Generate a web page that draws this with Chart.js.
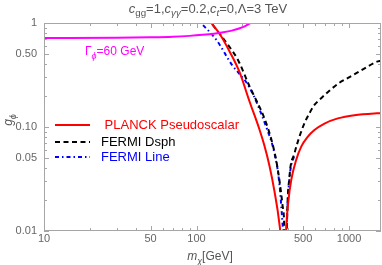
<!DOCTYPE html>
<html>
<head>
<meta charset="utf-8">
<script src="https://cdn.jsdelivr.net/npm/chart.js@4.4.1/dist/chart.umd.min.js"></script>
<style>
html, body { margin: 0; padding: 0; background: #fff; }
</style>
</head>
<body>
<canvas id="grafico" width="382" height="265"></canvas>
<script>
// Ejes
const xTicks = [10, 50, 100, 500, 1000];
const yTicks = [0.01, 0.05, 0.1, 0.5, 1];
const yTickLabels = ['0.01', '0.05', '0.10', '0.50', '1'];
const xMinor = [20, 30, 40, 60, 70, 80, 90, 200, 300, 400, 600, 700, 800, 900];
const yMinor = [0.02, 0.03, 0.04, 0.06, 0.07, 0.08, 0.09, 0.2, 0.3, 0.4, 0.6, 0.7, 0.8, 0.9];

// Ancho Gamma_phi = 60 GeV
const anchoM = [10, 30, 50, 70, 90, 110, 130, 150, 170, 190, 210, 235];
const anchoG = [0.718, 0.722, 0.728, 0.737, 0.752, 0.77, 0.79, 0.815, 0.845, 0.885, 0.94, 1.04];

// PLANCK Pseudoscalar
const planckM = [118, 125, 141, 165, 191, 222, 258, 278, 301, 324, 349, 356, 370, 387, 401, 418, 450, 486, 537, 593, 690, 844, 1083, 1517, 1620];
const planckG = [1.15, 1.0, 0.796, 0.53, 0.34, 0.178, 0.0957, 0.0671, 0.0422, 0.0243, 0.0119, 0.0085, 0.001, 0.0101, 0.0199, 0.031, 0.0482, 0.0647, 0.0807, 0.0936, 0.108, 0.121, 0.13, 0.1355, 0.136];

// FERMI Dsph
const dsphM = [118, 125, 164, 187, 222, 278, 314, 339, 366, 377, 384, 391, 407, 439, 473, 510, 550, 593, 639, 740, 861, 1000, 1161, 1525, 1620];
const dsphG = [1.12, 1.0, 0.592, 0.441, 0.248, 0.122, 0.07, 0.0412, 0.0178, 0.0095, 0.001, 0.01, 0.0333, 0.0558, 0.0807, 0.1086, 0.1356, 0.163, 0.182, 0.222, 0.265, 0.3, 0.34, 0.425, 0.435];

// FERMI Line
const lineaM = [98, 105, 135, 172, 191, 222, 286, 324, 349, 366, 372, 380, 390, 407, 440];
const lineaG = [1.15, 1.03, 0.687, 0.39, 0.325, 0.242, 0.1006, 0.0562, 0.029, 0.0119, 0.008, 0.001, 0.01, 0.032, 0.055];

const FUENTE = "'Liberation Sans', Arial, sans-serif";

function puntos(xs, ys) {
    return xs.map((x, i) => ({ x: x, y: ys[i] }));
}

// Dibuja texto con subindices: partes = [[texto, estilo]], estilo 'n', 'i', 's' (sub), 'si' (sub italica)
function textoPartes(ctx, partes, x, y, align, size, color) {
    const fuente = (p) => {
        const sub = p[1].indexOf('s') === 0;
        const it = p[1].indexOf('i') >= 0;
        return (it ? 'italic ' : '') + (sub ? size * 0.75 : size) + 'px ' + FUENTE;
    };
    let total = 0;
    partes.forEach((p) => { ctx.font = fuente(p); total += ctx.measureText(p[0]).width; });
    let cx = align === 'center' ? x - total / 2 : x;
    ctx.fillStyle = color;
    ctx.textAlign = 'left';
    ctx.textBaseline = 'middle';
    partes.forEach((p) => {
        ctx.font = fuente(p);
        const dy = p[1].indexOf('s') === 0 ? size * 0.35 : 0;
        ctx.fillText(p[0], cx, y + dy);
        cx += ctx.measureText(p[0]).width;
    });
}

const pluginMarco = {
    id: 'marco',
    afterDatasetsDraw(chart) {
        const ctx = chart.ctx;
        const a = chart.chartArea;
        const sx = chart.scales.x;
        const sy = chart.scales.y;
        ctx.save();
        ctx.strokeStyle = '#a6a6a6';
        ctx.lineWidth = 1;
        ctx.strokeRect(a.left + 0.5, a.top + 0.5, a.right - a.left - 1, a.bottom - a.top - 1);
        ctx.beginPath();
        const marcasX = (vals, len) => vals.forEach((v) => {
            const px = Math.round(sx.getPixelForValue(v)) + 0.5;
            ctx.moveTo(px, a.bottom); ctx.lineTo(px, a.bottom - len);
            ctx.moveTo(px, a.top); ctx.lineTo(px, a.top + len);
        });
        const marcasY = (vals, len) => vals.forEach((v) => {
            const py = Math.round(sy.getPixelForValue(v)) + 0.5;
            ctx.moveTo(a.left, py); ctx.lineTo(a.left + len, py);
            ctx.moveTo(a.right, py); ctx.lineTo(a.right - len, py);
        });
        marcasX(xTicks, 5); marcasX(xMinor, 3);
        marcasY(yTicks, 5); marcasY(yMinor, 3);
        ctx.stroke();

        // Titulo
        textoPartes(ctx, [['c', 'i'], ['gg', 's'], ['=1,', 'n'], ['c', 'i'], ['γγ', 'si'], ['=0.2,', 'n'],
            ['c', 'i'], ['t', 'si'], ['=0,Λ=3 TeV', 'n']], 208, 9, 'center', 13, '#555');
        // Eje x
        textoPartes(ctx, [['m', 'i'], ['χ', 'si'], ['[GeV]', 'n']], 210, 257, 'center', 12, '#555');
        // Eje y (rotado)
        ctx.save();
        ctx.translate(9, 120);
        ctx.rotate(-Math.PI / 2);
        textoPartes(ctx, [['g', 'i'], ['ϕ', 'si']], 0, 0, 'center', 12, '#555');
        ctx.restore();

        // Etiqueta del ancho
        textoPartes(ctx, [['Γ', 'n'], ['ϕ', 'si'], ['=60 GeV', 'n']], 85, 52, 'left', 12, '#ff00ff');

        // Leyenda
        const leyenda = [
            { texto: ' PLANCK Pseudoscalar', color: '#ff0000', dash: [], y: 125 },
            { texto: 'FERMI Dsph', color: '#000000', dash: [5, 3.5], y: 142 },
            { texto: 'FERMI Line', color: '#0000ff', dash: [4, 3, 1.5, 3], y: 157 }
        ];
        leyenda.forEach((l) => {
            ctx.beginPath();
            ctx.setLineDash(l.dash);
            ctx.strokeStyle = l.color;
            ctx.lineWidth = 2;
            ctx.moveTo(55, l.y); ctx.lineTo(90, l.y);
            ctx.stroke();
            ctx.setLineDash([]);
            textoPartes(ctx, [[l.texto, 'n']], 101, l.y, 'left', 13, l.color);
        });
        ctx.restore();
    }
};

const ctx = document.getElementById('grafico').getContext('2d');
const comunes = { showLine: true, fill: false, pointRadius: 0, cubicInterpolationMode: 'monotone', clip: 0 };

new Chart(ctx, {
    type: 'scatter',
    data: {
        datasets: [
            Object.assign({ label: 'ancho', data: puntos(anchoM, anchoG), borderColor: '#ff00ff', borderWidth: 2 }, comunes),
            Object.assign({ label: 'PLANCK Pseudoscalar', data: puntos(planckM, planckG), borderColor: '#ff0000', borderWidth: 2 }, comunes),
            Object.assign({ label: 'FERMI Dsph', data: puntos(dsphM, dsphG), borderColor: '#000000', borderWidth: 2, borderDash: [5, 3.5] }, comunes),
            Object.assign({ label: 'FERMI Line', data: puntos(lineaM, lineaG), borderColor: '#0000ff', borderWidth: 2, borderDash: [4, 3, 1.5, 3] }, comunes)
        ]
    },
    options: {
        responsive: false,
        animation: false,
        devicePixelRatio: 1,
        layout: { padding: { top: 23, right: 1, left: 0, bottom: 0 } },
        elements: { line: { capBezierPoints: false } },
        plugins: { legend: { display: false }, tooltip: { enabled: false } },
        scales: {
            x: {
                type: 'logarithmic',
                min: 10,
                max: 1620,
                afterBuildTicks: (s) => { s.ticks = xTicks.map((v) => ({ value: v })); },
                afterFit: (s) => { s.height = 34; },
                grid: { display: false, drawTicks: false },
                border: { display: false },
                ticks: {
                    autoSkip: false, maxRotation: 0, padding: 1, color: '#666',
                    font: { family: FUENTE, size: 11 },
                    callback: (v) => String(v)
                }
            },
            y: {
                type: 'logarithmic',
                min: 0.01,
                max: 1,
                afterBuildTicks: (s) => { s.ticks = yTicks.map((v) => ({ value: v })); },
                afterFit: (s) => { s.width = 44; },
                grid: { display: false, drawTicks: false },
                border: { display: false },
                ticks: {
                    autoSkip: false, padding: 7, color: '#666',
                    font: { family: FUENTE, size: 11 },
                    callback: (v) => yTickLabels[yTicks.indexOf(v)] || ''
                }
            }
        }
    },
    plugins: [pluginMarco]
});
</script>
</body>
</html>
